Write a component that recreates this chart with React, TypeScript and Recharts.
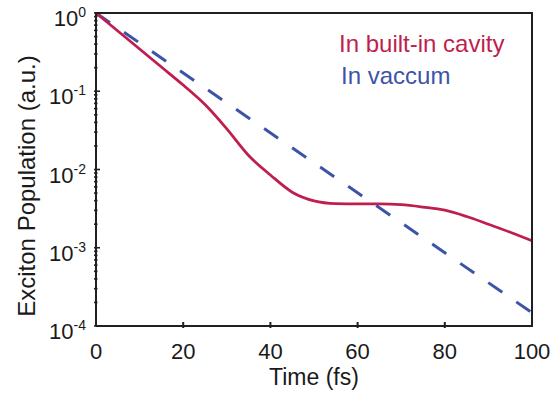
import React from "react";
import { LineChart, Line, XAxis, YAxis } from "recharts";

// ---- data ----
const timeTicks = [0, 20, 40, 60, 80, 100];
const popTicks = [
  0.0001, 0.0002, 0.0003, 0.0004, 0.0005, 0.0006, 0.0007, 0.0008, 0.0009,
  0.001, 0.002, 0.003, 0.004, 0.005, 0.006, 0.007, 0.008, 0.009,
  0.01, 0.02, 0.03, 0.04, 0.05, 0.06, 0.07, 0.08, 0.09,
  0.1, 0.2, 0.3, 0.4, 0.5, 0.6, 0.7, 0.8, 0.9,
  1,
];
const majorExponents = ["0", "-1", "-2", "-3", "-4"];
const majorValues = [1, 0.1, 0.01, 0.001, 0.0001];

const cavityTime = [0, 5, 10, 15, 20, 25, 30, 35, 40, 45, 50, 55, 60, 65, 70, 75, 80, 85, 90, 95, 100];
const cavityPop = [
  1, 0.589, 0.347, 0.204, 0.12, 0.0676, 0.0331, 0.0151, 0.00851, 0.00513, 0.00398,
  0.00367, 0.00363, 0.00363, 0.00355, 0.00331, 0.00302, 0.00251, 0.002, 0.00158, 0.00123,
];
const vacuumTime = [0, 100];
const vacuumPop = [1, 0.000148];

// plot frame corners (time, population)
const frameTime = [0, 0, 100, 100, 0];
const framePop = [0.0001, 1, 1, 0.0001, 0.0001];

const seriesNames = ["In built-in cavity", "In vaccum"];
const xLabel = "Time (fs)";
const yLabel = "Exciton Population (a.u.)";

const cavityData = cavityTime.map((t, i) => ({ t, v: cavityPop[i] }));
const vacuumData = vacuumTime.map((t, i) => ({ t, v: vacuumPop[i] }));
const frameData = frameTime.map((t, i) => ({ t, f: framePop[i] }));

const RED = "#BF1F4E";
const BLUE = "#3C54A7";
const AXIS = "#202020";
const FONT = "'Liberation Sans', Arial, Helvetica, sans-serif";
const TS = 6; // recharts default tickSize offset

const majorIndex = (v: number) =>
  majorValues.findIndex((m) => Math.abs(m - v) / m < 1e-6);

const BottomTick = (props: any) => {
  const x = Number(props.x);
  const ay = Number(props.y) - TS;
  const v = props.payload.value;
  return (
    <g>
      {v !== 0 && v !== 100 && <rect x={x - 1} y={ay - 6} width={2} height={6} fill={AXIS} />}
      <text x={x} y={ay + 31} textAnchor="middle" fontSize={22} fill="#1a1a1a" fontFamily={FONT}>
        {v}
      </text>
    </g>
  );
};

const TopTick = (props: any) => {
  const x = Number(props.x);
  const ay = Number(props.y) + TS;
  const v = props.payload.value;
  if (v === 0 || v === 100) return <g />;
  return <rect x={x - 1} y={ay} width={2} height={6} fill={AXIS} />;
};

const LeftTick = (props: any) => {
  const ax = Number(props.x) + TS;
  const y = Number(props.y);
  const idx = majorIndex(props.payload.value);
  const major = idx >= 0;
  return (
    <g>
      <rect x={ax} y={y - 0.8} width={major ? 6 : 3.5} height={1.6} fill={AXIS} />
      {major && (
        <text x={ax - 8} y={y + 13} textAnchor="end" fontSize={22} fill="#1a1a1a" fontFamily={FONT}>
          10
          <tspan dy={-9} fontSize={14}>
            {majorExponents[idx]}
          </tspan>
        </text>
      )}
    </g>
  );
};

const RightTick = (props: any) => {
  const ax = Number(props.x) - TS;
  const y = Number(props.y);
  const major = majorIndex(props.payload.value) >= 0;
  const len = major ? 6 : 3.5;
  return <rect x={ax - len} y={y - 0.8} width={len} height={1.6} fill={AXIS} />;
};

export default function App() {
  return (
    <div style={{ position: "absolute", left: 0, top: 0, width: 555, height: 396 }}>
      <LineChart width={555} height={396} margin={{ top: 12, right: 22, bottom: 0, left: 0 }}>
        <XAxis
          xAxisId="bottom"
          dataKey="t"
          type="number"
          domain={[0, 100]}
          ticks={timeTicks}
          interval={0}
          height={70}
          stroke={AXIS}
          strokeWidth={2}
          tickLine={false}
          tick={<BottomTick />}
        />
        <XAxis
          xAxisId="top"
          orientation="top"
          dataKey="t"
          type="number"
          domain={[0, 100]}
          ticks={timeTicks}
          interval={0}
          height={1}
          stroke={AXIS}
          strokeWidth={2}
          tickLine={false}
          tick={<TopTick />}
        />
        <YAxis
          yAxisId="left"
          dataKey="v"
          scale="log"
          type="number"
          domain={[0.0001, 1]}
          ticks={popTicks}
          interval={0}
          width={96}
          stroke={AXIS}
          strokeWidth={2}
          tickLine={false}
          tick={<LeftTick />}
        />
        <YAxis
          yAxisId="right"
          orientation="right"
          dataKey="v"
          scale="log"
          type="number"
          domain={[0.0001, 1]}
          ticks={popTicks}
          interval={0}
          width={1}
          stroke={AXIS}
          strokeWidth={2}
          tickLine={false}
          tick={<RightTick />}
        />
        <Line
          xAxisId="bottom"
          yAxisId="left"
          data={vacuumData}
          dataKey="v"
          type="linear"
          stroke={BLUE}
          strokeWidth={3}
          strokeDasharray="17 17"
          dot={false}
          activeDot={false}
          isAnimationActive={false}
        />
        <Line
          xAxisId="bottom"
          yAxisId="left"
          data={cavityData}
          dataKey="v"
          type="monotone"
          stroke={RED}
          strokeWidth={2.8}
          dot={false}
          activeDot={false}
          isAnimationActive={false}
        />
        <Line
          xAxisId="bottom"
          yAxisId="left"
          data={frameData}
          dataKey="f"
          type="linear"
          stroke={AXIS}
          strokeWidth={2}
          dot={false}
          activeDot={false}
          isAnimationActive={false}
        />
        <text x={339} y={52} fontSize={24} fill={RED} fontFamily={FONT}>{seriesNames[0]}</text>
        <text x={341} y={84} fontSize={24} fill={BLUE} fontFamily={FONT}>{seriesNames[1]}</text>
        <text x={314} y={385} fontSize={23} fill="#1a1a1a" textAnchor="middle" fontFamily={FONT}>{xLabel}</text>
        <text x={35} y={186} fontSize={24} fill="#1a1a1a" textAnchor="middle" fontFamily={FONT} transform="rotate(-90 35 186)">{yLabel}</text>
      </LineChart>
    </div>
  );
}
